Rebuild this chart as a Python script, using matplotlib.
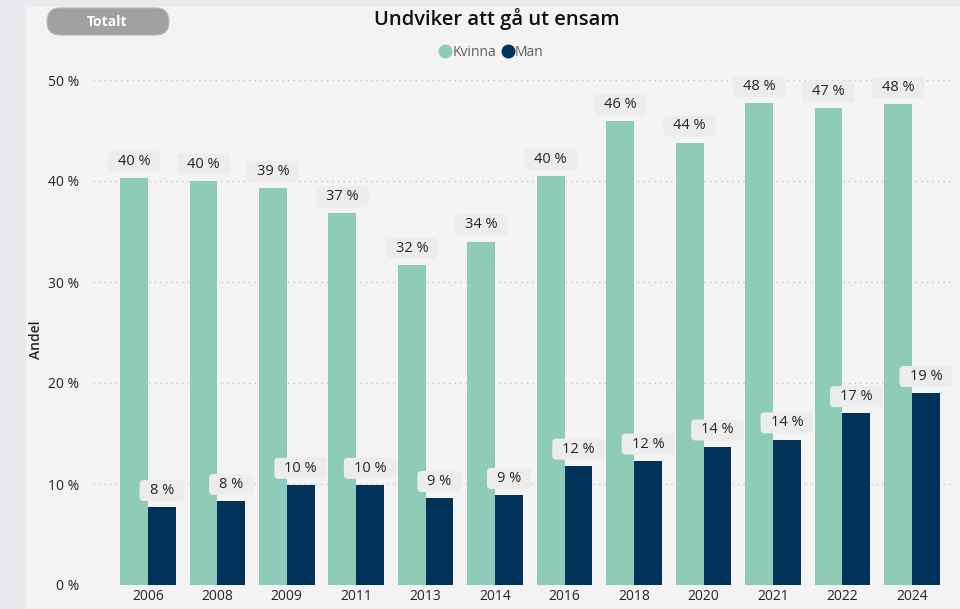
import matplotlib.pyplot as plt
from matplotlib.patches import FancyBboxPatch, Rectangle
from matplotlib.lines import Line2D
from matplotlib.transforms import IdentityTransform
import numpy as np

years = ['2006', '2008', '2009', '2011', '2013', '2014', '2016', '2018', '2020', '2021', '2022', '2024']
kvinna = [40.3, 40.0, 39.3, 36.8, 31.7, 34.0, 40.5, 45.9, 43.8, 47.7, 47.2, 47.6]
man = [7.7, 8.3, 9.9, 9.9, 8.6, 8.9, 11.8, 12.3, 13.7, 14.4, 17.0, 19.0]
kvinna_labels = ['40 %', '40 %', '39 %', '37 %', '32 %', '34 %', '40 %', '46 %', '44 %', '48 %', '47 %', '48 %']
man_labels = ['8 %', '8 %', '10 %', '10 %', '9 %', '9 %', '12 %', '12 %', '14 %', '14 %', '17 %', '19 %']
yticks = [0, 10, 20, 30, 40, 50]

plt.rcParams['font.family'] = ['Open Sans', 'DejaVu Sans']

KVINNA_COLOR = '#8fcbb9'
MAN_COLOR = '#01335a'
TEXT_COLOR = '#252423'

fig = plt.figure(figsize=(9.6, 6.09), dpi=100, facecolor='#e9eaee')

# light panel behind the visual
fig.patches.append(Rectangle((26 / 960, 0), 1, 1 - 7 / 609, transform=fig.transFigure,
                             facecolor='#f3f3f3', edgecolor='none', zorder=-5))

ax = fig.add_axes([93 / 960, 24 / 609, 862 / 960, 505 / 609])
ax.set_facecolor('none')

x = np.arange(len(years))
w = 0.4
ax.bar(x - w / 2, kvinna, w, color=KVINNA_COLOR, zorder=2)
ax.bar(x + w / 2, man, w, color=MAN_COLOR, zorder=2)

ax.set_xlim(-0.79, 11.62)
ax.set_ylim(0, 50)
ax.set_yticks(yticks)
ax.set_yticklabels([f'{t} %' for t in yticks])
ax.set_xticks(x)
ax.set_xticklabels(years)
ax.tick_params(axis='both', length=0, labelsize=10, labelcolor=TEXT_COLOR)
ax.tick_params(axis='y', pad=10)
ax.tick_params(axis='x', pad=3)
ax.grid(axis='y', color='#c8c8c8', linestyle=(0, (1, 3)), linewidth=1, zorder=1)
for s in ax.spines.values():
    s.set_visible(False)

ax.set_ylabel('Andel', fontsize=10, color=TEXT_COLOR, fontweight='semibold')
ax.yaxis.set_label_coords(-50 / 862, 0.485)

# data labels
texts = []
for xs, vals, labs in [(x - w / 2, kvinna, kvinna_labels), (x + w / 2, man, man_labels)]:
    for xi, v, lab in zip(xs, vals, labs):
        t = ax.annotate(lab, (xi, v), xytext=(0, 12), textcoords='offset points',
                        ha='center', va='center', fontsize=10.5, color=TEXT_COLOR,
                        zorder=4, annotation_clip=False)
        texts.append(t)

# rounded boxes behind the labels, sized in pixels from the text extents
fig.canvas.draw()
renderer = fig.canvas.get_renderer()
for t in texts:
    bb = t.get_window_extent(renderer)
    cy = (bb.y0 + bb.y1) / 2
    box = FancyBboxPatch((bb.x0 - 10, cy - 10.5), bb.width + 20, 21,
                         boxstyle='round,pad=0,rounding_size=4', transform=IdentityTransform(),
                         facecolor='#ececec', edgecolor='none', zorder=3, clip_on=False)
    ax.add_patch(box)

fig.text(497 / 960, 1 - 19 / 609, 'Undviker att gå ut ensam', ha='center', va='center',
         fontsize=14.5, color='#111111', fontweight='semibold')

handles = [Line2D([], [], marker='o', linestyle='none', markersize=9, color=KVINNA_COLOR),
           Line2D([], [], marker='o', linestyle='none', markersize=9, color=MAN_COLOR)]
fig.legend(handles=handles, labels=['Kvinna', 'Man'], loc='center',
           bbox_to_anchor=(492 / 960, 1 - 52 / 609), ncol=2, frameon=False,
           fontsize=10, handlelength=0.7, handletextpad=0.15, columnspacing=0.5,
           labelcolor='#605e5c')

# "Totalt" button, drawn in pixel units
btn = FancyBboxPatch((47, 609 - 35), 122, 27, boxstyle='round,pad=0,rounding_size=13.5',
                     transform=IdentityTransform(), facecolor='#a0a0a0', edgecolor='#b5b5b5',
                     linewidth=0.8, zorder=3)
fig.patches.append(btn)
fig.text(107 / 960, 1 - 21.5 / 609, 'Totalt', ha='center', va='center', fontsize=10,
         color='white', fontweight='bold', zorder=4)

fig.savefig('out.png', dpi=100, facecolor=fig.get_facecolor())
